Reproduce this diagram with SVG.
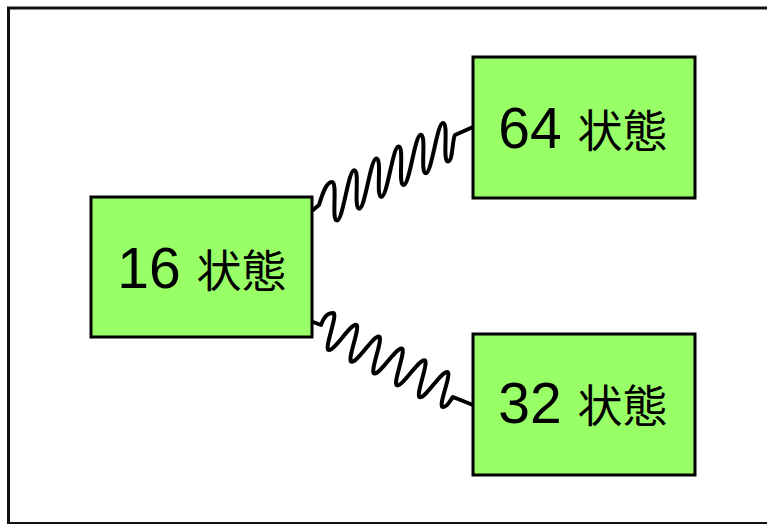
<svg xmlns="http://www.w3.org/2000/svg" width="767" height="524" viewBox="0 0 767 524">
<style>
.frame{fill:#ffffff;stroke:#111111;stroke-width:3}
.box{fill:#99ff66;stroke:#000000;stroke-width:3}
.lbl{font-family:"Liberation Sans",Arial,sans-serif;font-size:57px;fill:#000000;text-anchor:middle}
.cjk{font-family:"Noto Sans CJK JP","Noto Sans CJK SC",sans-serif;font-size:45px}
.spring{fill:none;stroke:#000000;stroke-width:4;stroke-linejoin:round;stroke-linecap:round}
</style>
<rect class="frame" x="8.5" y="8" width="800" height="515.5"/>
<g id="connectors">
<path class="spring" d="M313,210 L319,205 C322,195 326,182 332,182 C338,182 331,220.5 337,220.5 C343,220.5 348.2,170.2 354.2,170.2 C360.2,170.2 353.2,208.7 359.2,208.7 C365.2,208.7 370.4,158.4 376.4,158.4 C382.4,158.4 375.4,196.9 381.4,196.9 C387.4,196.9 392.6,146.6 398.6,146.6 C404.6,146.6 397.6,185.1 403.6,185.1 C409.6,185.1 414.8,134.8 420.8,134.8 C426.8,134.8 419.8,173.3 425.8,173.3 C431.8,173.3 437,123 443,123 C449,123 442,161.5 448,161.5 C453,161.5 452,140 455,135 L473,127"/>
<path class="spring" d="M313,322 L321,325 C324,317 327,313 333,313 C339,313 323,350 329,350 C335,350 349.8,324.8 355.8,324.8 C361.8,324.8 345.8,361.8 351.8,361.8 C357.8,361.8 372.6,336.6 378.6,336.6 C384.6,336.6 368.6,373.6 374.6,373.6 C380.6,373.6 395.4,348.4 401.4,348.4 C407.4,348.4 391.4,385.4 397.4,385.4 C403.4,385.4 418.2,360.2 424.2,360.2 C430.2,360.2 414.2,397.2 420.2,397.2 C426.2,397.2 441,372 447,372 C453,372 437,407 443,407 C448,407 450,400 453,397 L473,405"/>
</g>
<g id="node16">
<rect class="box" x="91" y="197" width="221" height="140"/>
<text class="lbl" x="202" y="288">16 <tspan class="cjk">状態</tspan></text>
</g>
<g id="node64">
<rect class="box" x="473" y="57" width="222" height="141"/>
<text class="lbl" x="583" y="148">64 <tspan class="cjk">状態</tspan></text>
</g>
<g id="node32">
<rect class="box" x="473" y="334" width="222" height="141"/>
<text class="lbl" x="583" y="423">32 <tspan class="cjk">状態</tspan></text>
</g>
</svg>
